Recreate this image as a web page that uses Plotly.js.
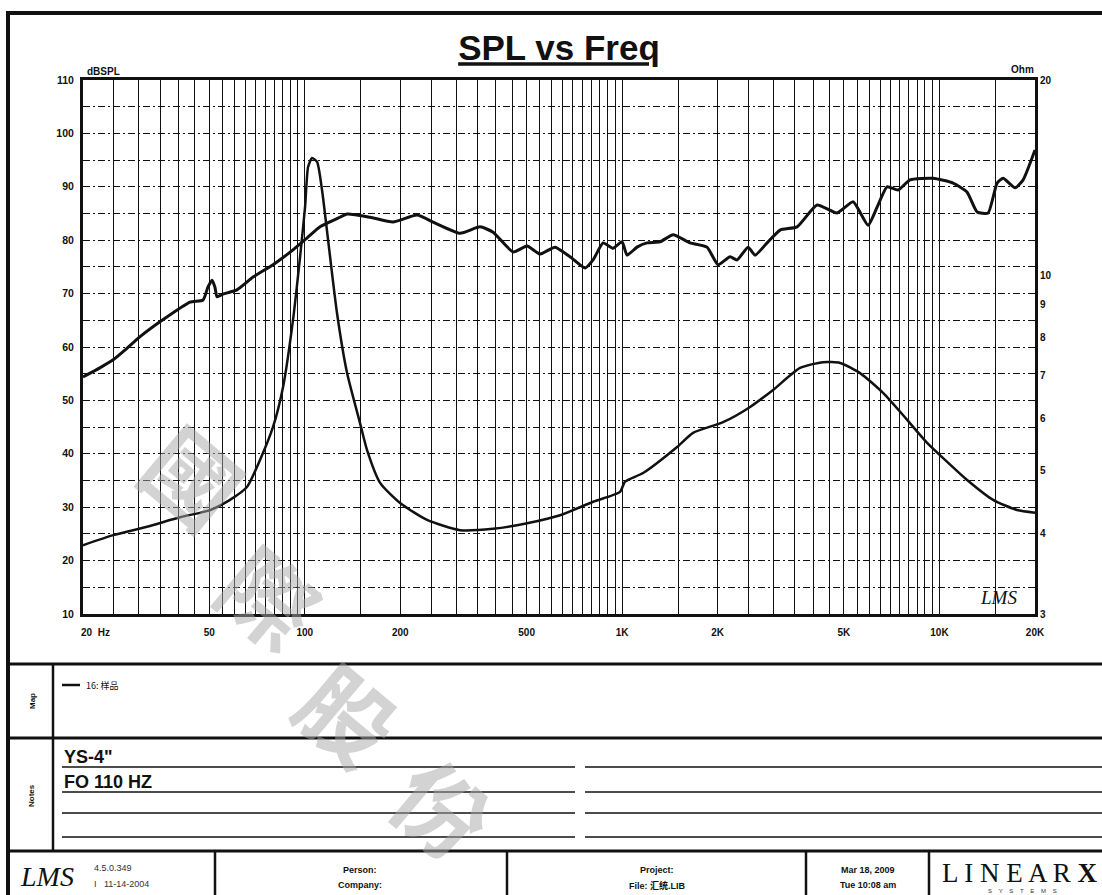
<!DOCTYPE html>
<html><head><meta charset="utf-8">
<script src="https://cdn.plot.ly/plotly-3.0.1.min.js"></script>
<style>html,body{margin:0;padding:0;background:#fff}</style>
</head><body>
<div id="chart" style="width:1102px;height:895px"></div>
<script>
// ---- data ----
const splFreq = [20, 22.6, 24.9, 27.1, 30.2, 35.7, 43.5, 47.8, 49.5, 51.0, 52.1, 52.9, 55.2, 61.1, 68.7, 79.4, 91.8, 101.6, 111.7, 129.1, 135.9, 160.6, 189.7, 225.8, 253.6, 308.5, 356.7, 392, 453.2, 501.6, 551.1, 614.6, 685.4, 764.1, 809.9, 870.9, 936.3, 999.4, 1036, 1114, 1198, 1317, 1447, 1637, 1851, 2006, 2188, 2302, 2494, 2624, 2862, 3146, 3558, 4115, 4756, 5343, 5957, 6360, 6838, 7405, 8078, 9548, 11040, 12220, 13140, 14230, 15190, 15870, 17310, 18350, 20000];
const splDb = [54.4, 56.1, 57.6, 59.4, 61.9, 65.1, 68.4, 68.8, 71.2, 72.5, 71.2, 69.4, 69.9, 70.7, 73.1, 75.4, 78.2, 80.4, 82.5, 84.3, 84.9, 84.3, 83.4, 84.7, 83.4, 81.3, 82.5, 81.5, 77.8, 78.9, 77.4, 78.7, 76.9, 74.8, 76.3, 79.5, 78.5, 79.7, 77.2, 78.7, 79.5, 79.7, 81.0, 79.5, 78.7, 75.4, 76.9, 76.3, 78.7, 77.2, 79.5, 81.9, 82.5, 86.6, 85.1, 87.2, 82.8, 86.2, 90.0, 89.4, 91.3, 91.6, 90.7, 89.0, 85.3, 85.1, 90.7, 91.6, 89.8, 91.3, 96.9];
const impFreq = [20, 24.9, 31.8, 40.4, 50.3, 58.1, 65.7, 72.3, 79.4, 85.4, 91.8, 96.6, 100.2, 102.4, 105.4, 109.3, 113.3, 118.4, 126.3, 135.9, 149.3, 157.1, 172.7, 199.6, 242.8, 308.5, 392, 501.6, 637.4, 809.9, 984.9, 1021, 1164, 1490, 1673, 2080, 2531, 2990, 3637, 4297, 4862, 5621, 6643, 7907, 9142, 10270, 12220, 14760, 17560, 20000];
const impOhm = [3.83, 3.97, 4.09, 4.23, 4.34, 4.50, 4.71, 5.19, 5.83, 6.72, 8.53, 10.66, 12.74, 14.68, 15.16, 14.95, 13.53, 11.33, 8.74, 7.06, 5.91, 5.37, 4.78, 4.45, 4.19, 4.04, 4.06, 4.14, 4.26, 4.47, 4.63, 4.80, 4.95, 5.43, 5.71, 5.93, 6.26, 6.65, 7.19, 7.34, 7.32, 7.06, 6.58, 5.98, 5.51, 5.22, 4.83, 4.50, 4.34, 4.30];

const xLabelVals = [20, 50, 100, 200, 500, 1000, 2000, 5000, 10000, 20000];
const xLabelText = ['\u00a0\u00a0\u00a0\u00a0\u00a0\u00a0\u00a0\u00a0\u00a020\u00a0\u00a0Hz', '50', '100', '200', '500', '1K', '2K', '5K', '10K', '20K'];
const dbLabelVals = [10, 20, 30, 40, 50, 60, 70, 80, 90, 100, 110];
const ohmTickVals = [3, 4, 5, 6, 7, 8, 9, 10, 20];
const ohmTickText = ['3', '4', '5', '6', '7', '8', '9', '10', '20'];

// ---- grid ticks (every half-step of each decade, dB every 5) ----
const xGrid = [];
for (const d of [10, 100, 1000, 10000]) {
  for (let m = 1; m < 10; m += 0.5) {
    const v = m * d;
    if (v >= 20 && v <= 20000) xGrid.push(v);
  }
}
xGrid.push(20000);
const xGridText = xGrid.map(v => {
  const i = xLabelVals.findIndex(l => Math.abs(l - v) < 1e-6);
  return i >= 0 ? xLabelText[i] : '';
});
const yGrid = [];
for (let v = 10; v <= 110; v += 5) yGrid.push(v);
const yGridText = yGrid.map(v => dbLabelVals.includes(v) ? String(v) : '');

// ---- page geometry helpers (pixel -> paper) ----
const L = 83, R = 1035, T = 80, B = 614;
const px = x => (x - L) / (R - L);
const py = y => (B - y) / (B - T);

const FONT = 'Liberation Sans, Arial, sans-serif';
const ink = '#111';

const shapes = [];
function line(x0, y0, x1, y1, w, dash) {
  shapes.push({type: 'line', xref: 'paper', yref: 'paper', x0: px(x0), y0: py(y0), x1: px(x1), y1: py(y1),
    line: {color: ink, width: w, dash: dash || 'solid'}});
}
// outer frame
shapes.push({type: 'rect', xref: 'paper', yref: 'paper', x0: px(8), y0: py(13), x1: px(1120), y1: py(910),
  line: {color: ink, width: 4}});
// section separators
line(8, 664, 1110, 664, 3);
line(8, 738, 1110, 738, 3);
line(8, 851, 1110, 851, 3);
line(53, 664, 53, 851, 2.5);
for (const x of [215, 507, 806, 929]) line(x, 851, x, 905, 2.5);
// notes ruled lines
for (const y of [767, 792, 813, 837]) {
  line(62, y, 575, y, 1.3);
  line(585, y, 1110, y, 1.3);
}
// map legend swatch
line(62, 685, 80, 685, 2.5);

const annotations = [];
function ann(text, x, y, opts) {
  annotations.push(Object.assign({text, xref: 'paper', yref: 'paper', x: px(x), y: py(y), showarrow: false,
    xanchor: 'center', yanchor: 'middle', font: {family: FONT, size: 9, color: ink, weight: 'bold'}}, opts || {}));
}
// diagonal scan watermark (drawn first, under the other texts)
const wm = [['國', 195, 475], ['際', 272, 595], ['股', 350, 712], ['份', 445, 806]];
for (const [c, x, y] of wm) {
  ann(c, x, y, {textangle: 40, opacity: 0.5, font: {family: 'Noto Sans CJK TC, sans-serif', size: 92, color: '#a8a8a8', weight: 'bold'}});
}
ann('dBSPL', 85, 71, {xanchor: 'left', font: {family: FONT, size: 10, color: ink, weight: 'bold'}});
ann('Ohm', 1036, 69, {xanchor: 'right', font: {family: FONT, size: 10, color: ink, weight: 'bold'}});
ann('<i>LMS</i>', 998, 597, {font: {family: 'Liberation Serif, serif', size: 19, color: ink}});
ann('Map', 32, 701, {textangle: -90, font: {family: FONT, size: 8, color: ink, weight: 'bold'}});
ann('Notes', 31, 796, {textangle: -90, font: {family: FONT, size: 8, color: ink, weight: 'bold'}});
ann('16: 样品', 84, 685, {xanchor: 'left', font: {family: 'Noto Sans CJK SC, sans-serif', size: 9, color: ink}});
ann('YS-4"', 62, 757, {xanchor: 'left', font: {family: FONT, size: 18, color: ink, weight: 'bold'}});
ann('FO 110 HZ', 62, 782, {xanchor: 'left', font: {family: FONT, size: 18, color: ink, weight: 'bold'}});
ann('<i>LMS</i>', 47, 876, {font: {family: 'Liberation Serif, serif', size: 28, color: ink}});
ann('4.5.0.349', 92, 868, {xanchor: 'left', font: {family: FONT, size: 9, color: '#333'}});
ann('I\u00a0\u00a0\u00a011-14-2004', 92, 884, {xanchor: 'left', font: {family: FONT, size: 9, color: '#333'}});
ann('Person:', 360, 870);
ann('Company:', 360, 885);
ann('Project:', 657, 870);
ann('File: 汇统.LIB', 657, 885, {font: {family: 'Liberation Sans, Noto Sans CJK SC, sans-serif', size: 9, color: ink, weight: 'bold'}});
ann('Mar 18, 2009', 868, 870);
ann('Tue 10:08 am', 868, 885);
ann('L I N E A R <b>X</b>', 1020, 873, {font: {family: 'Liberation Serif, serif', size: 27, color: ink}});
ann('S\u00a0\u00a0\u00a0\u00a0Y\u00a0\u00a0\u00a0\u00a0S\u00a0\u00a0\u00a0\u00a0T\u00a0\u00a0\u00a0\u00a0E\u00a0\u00a0\u00a0\u00a0M\u00a0\u00a0\u00a0\u00a0S', 1022, 891,
  {font: {family: FONT, size: 6, color: '#333'}});

const traces = [
  {x: splFreq, y: splDb, type: 'scatter', mode: 'lines', name: 'SPL', yaxis: 'y',
   line: {color: ink, width: 3, shape: 'spline', smoothing: 0.5}},
  {x: impFreq, y: impOhm, type: 'scatter', mode: 'lines', name: 'Impedance', yaxis: 'y2',
   line: {color: ink, width: 2.5, shape: 'spline', smoothing: 0.6}}
];

const layout = {
  width: 1102, height: 895, autosize: false,
  margin: {l: L, r: 1102 - R, t: T, b: 895 - B, pad: 0},
  paper_bgcolor: '#fff', plot_bgcolor: '#fff',
  showlegend: false,
  title: {text: '<b><u>SPL vs Freq</u></b>', x: 0.5, xref: 'paper', xanchor: 'center',
    y: 1 - 48 / 895, yref: 'container', yanchor: 'middle',
    font: {family: FONT, size: 35, color: ink}},
  xaxis: {type: 'log', range: [Math.log10(20), Math.log10(20000)], tickmode: 'array',
    tickvals: xGrid, ticktext: xGridText, ticks: '', ticklen: 0, ticklabelstandoff: 7,
    showgrid: true, gridcolor: ink, gridwidth: 1, zeroline: false,
    showline: true, mirror: true, linecolor: ink, linewidth: 3,
    tickfont: {family: FONT, size: 10, color: ink, weight: 'bold'}},
  yaxis: {range: [10, 110], tickmode: 'array', tickvals: yGrid, ticktext: yGridText,
    ticks: '', ticklen: 0, ticklabelstandoff: 4,
    showgrid: true, gridcolor: ink, gridwidth: 1, griddash: '7px,3px,2px,3px', zeroline: false,
    showline: true, mirror: true, linecolor: ink, linewidth: 3,
    tickfont: {family: FONT, size: 10.5, color: ink, weight: 'bold'}},
  yaxis2: {type: 'log', overlaying: 'y', side: 'right', range: [Math.log10(3), Math.log10(20)],
    tickmode: 'array', tickvals: ohmTickVals, ticktext: ohmTickText, ticks: '', ticklen: 0, ticklabelstandoff: 4,
    showgrid: false, zeroline: false, showline: false,
    tickfont: {family: FONT, size: 10, color: ink, weight: 'bold'}},
  shapes, annotations
};

Plotly.newPlot('chart', traces, layout, {staticPlot: true, displayModeBar: false});
</script>
</body></html>
